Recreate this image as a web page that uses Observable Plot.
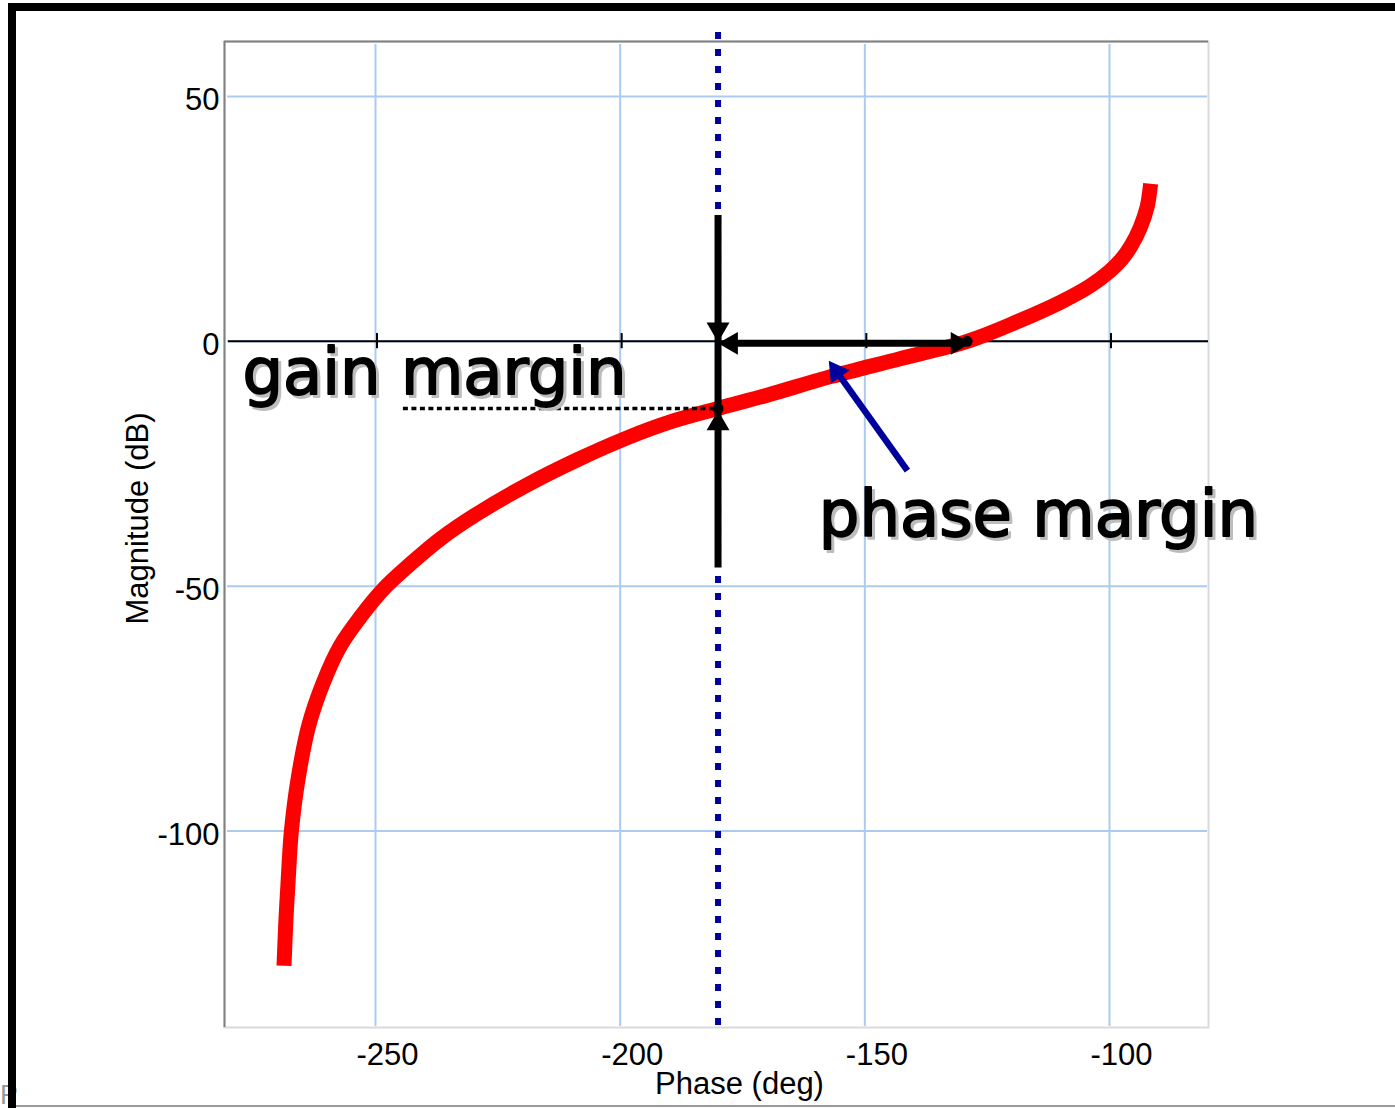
<!DOCTYPE html>
<html>
<head>
<meta charset="utf-8">
<script src="https://cdn.jsdelivr.net/npm/d3@7"></script>
<script src="https://cdn.jsdelivr.net/npm/@observablehq/plot@0.6"></script>
<style>
  html, body { margin: 0; padding: 0; background: #fff; overflow: hidden; }
  #wrap { position: relative; width: 1395px; height: 1108px; overflow: hidden; }
  #chart { position: absolute; left: 0; top: 0; }
  #corner { position: absolute; left: 0; top: 1080px; font: 27px "Liberation Sans", Arial, sans-serif; color: #999; }
  #border { position: absolute; left: 8px; top: 3px; width: 1500px; height: 1300px;
            border-top: 8px solid #000; border-left: 8px solid #000; pointer-events: none; }
  #bottomline { position: absolute; left: 16px; top: 1105px; width: 1400px; height: 0; border-top: 2px solid #9a9a9a; }
</style>
</head>
<body>
<div id="wrap">
  <div id="chart"></div>
  <div id="corner">P</div>
  <div id="border"></div>
  <div id="bottomline"></div>
</div>
<script>
// ---- Axis ticks ----
const xTicks = [-250, -200, -150, -100];
const xTickLabels = ["-250", "-200", "-150", "-100"];
const yTicks = [50, 0, -50, -100];
const yTickLabels = ["50", "0", "-50", "-100"];
const xLabel = "Phase (deg)";
const yLabel = "Magnitude (dB)";

// ---- Nichols curve (phase in deg, magnitude in dB) ----
const phaseDeg = [-268.7, -268.3, -267.9, -267.2, -265.8, -263.6, -260.6, -257.2, -253.1, -248.3,
                  -242.8, -236.7, -229.2, -219.0, -208.6, -198.6, -189.6, -180.0, -170.0, -157.0,
                  -143.0, -129.1, -118.9, -110.0, -104.0, -100.0, -97.5, -95.6, -93.7, -92.3, -91.6];
const magnitudeDb = [-127.5, -118.0, -111.0, -100.1, -89.2, -78.3, -69.5, -62.2, -56.3, -50.5,
                     -45.4, -40.3, -35.2, -29.3, -24.1, -19.7, -16.4, -13.7, -11.0, -7.2,
                     -3.6, 0.0, 4.0, 8.0, 11.3, 14.3, 16.8, 19.5, 23.3, 27.5, 32.2];

// ---- Annotations ----
const crossoverPhase = -180;            // phase of the -180 deg line
const gainCrossMag = -13.7;             // magnitude where curve meets -180 deg
const phaseCrossPhase = -129.1;         // phase where curve meets 0 dB
const phaseArrowEnd = -128.4;
const phaseArrowMag = -0.4;
const vArrowTop = 25.7, vArrowBottom = -46.3;
const gainDotStart = -244.3;
const blueLineTop = 63.1, blueLineBottom = -140.7;
const pointerFrom = [-141.3, -26.4];    // [phase, mag] tail of the blue pointer
const pointerTo = [-157.36, -3.94];     // [phase, mag] tip of the blue pointer
const annotationLabels = ["gain margin", "phase margin"];
const annotationPhase = [-277.2, -159.4];
const annotationMag = [-10.69, -39.7];

const xDomain = [-280.86, -79.77];
const yDomain = [-140.12, 61.24];

const curve = phaseDeg.map((p, i) => ({phase: p, mag: magnitudeDb[i]}));
const notes = annotationLabels.map((t, i) => ({label: t, phase: annotationPhase[i], mag: annotationMag[i]}));

const gridColor = "#abcbf1";
const navy = "#00009c";
const tickFont = "'Liberation Sans', Arial, Helvetica, sans-serif";
const noteFont = "'Comic Sans MS', 'DejaVu Sans', sans-serif";

const tip = 13.2;
const headR = 8.5;

const chart = Plot.plot({
  width: 1395,
  height: 1108,
  marginLeft: 224,
  marginRight: 187,
  marginTop: 41,
  marginBottom: 81,
  x: {domain: xDomain, axis: null},
  y: {domain: yDomain, axis: null},
  style: {fontFamily: tickFont, fontSize: "31px", background: "transparent", overflow: "visible", color: "black"},
  marks: [
    // grid
    Plot.ruleX(xTicks, {stroke: gridColor, strokeWidth: 2, insetTop: 3, insetBottom: 1}),
    Plot.ruleY(yTicks, {stroke: gridColor, strokeWidth: 2, insetLeft: 3, insetRight: 1}),
    // frame: light right/bottom, grey top/left
    Plot.frame({stroke: "#dadada", strokeWidth: 2}),
    Plot.ruleY([yDomain[1]], {stroke: "#808080", strokeWidth: 2}),
    Plot.ruleX([xDomain[0]], {stroke: "#808080", strokeWidth: 2}),
    // zero line with small ticks
    Plot.ruleY([0], {stroke: "black", strokeWidth: 2, insetLeft: 4}),
    Plot.ruleX(xTicks, {y1: 1.6, y2: -1.5, stroke: "black", strokeWidth: 2, dx: 1.5}),
    // tick labels
    Plot.text(xTicks, {x: d => d, text: (d, i) => xTickLabels[i], frameAnchor: "bottom", textAnchor: "middle", lineAnchor: "top", dy: 15, dx: 12, fontSize: 31}),
    Plot.text(yTicks, {y: d => d, text: (d, i) => yTickLabels[i], frameAnchor: "left", textAnchor: "end", lineAnchor: "middle", dx: -5, dy: 4, fontSize: 31}),
    // axis labels
    Plot.text([xLabel], {frameAnchor: "bottom", textAnchor: "middle", lineAnchor: "middle", dx: 23, dy: 57, fontSize: 31}),
    Plot.text([yLabel], {frameAnchor: "left", textAnchor: "middle", lineAnchor: "middle", rotate: -90, dx: -86, dy: -16, fontSize: 31}),
    // dotted -180 line
    Plot.ruleX([crossoverPhase], {y1: blueLineTop, y2: blueLineBottom, stroke: navy, strokeWidth: 6, strokeDasharray: "7,10"}),
    // Nichols curve
    Plot.line(curve, {x: "phase", y: "mag", stroke: "red", strokeWidth: 15, strokeLinecap: "butt", strokeLinejoin: "round", curve: "catmull-rom"}),
    // gain margin dotted reference
    Plot.ruleY([gainCrossMag], {x1: gainDotStart, x2: crossoverPhase, stroke: "black", strokeWidth: 3.5, strokeDasharray: "5,3.5"}),
    // gain margin arrow (vertical)
    Plot.ruleX([crossoverPhase], {y1: vArrowTop, y2: vArrowBottom, stroke: "black", strokeWidth: 7}),
    Plot.dot([{x: crossoverPhase, y: -0.2}], {x: "x", y: "y", symbol: "triangle", r: headR, fill: "black", rotate: 180, dy: -tip}),
    Plot.dot([{x: crossoverPhase, y: -14.1}], {x: "x", y: "y", symbol: "triangle", r: headR, fill: "black", rotate: 0, dy: tip}),
    // phase margin arrow (horizontal)
    Plot.ruleY([phaseArrowMag], {x1: crossoverPhase, x2: phaseArrowEnd, stroke: "black", strokeWidth: 7, insetLeft: 10, insetRight: 10}),
    Plot.dot([{x: crossoverPhase, y: phaseArrowMag}], {x: "x", y: "y", symbol: "triangle", r: headR, fill: "black", rotate: -90, dx: tip}),
    Plot.dot([{x: phaseArrowEnd, y: phaseArrowMag}], {x: "x", y: "y", symbol: "triangle", r: headR, fill: "black", rotate: 90, dx: -tip}),
    // crossing dots
    Plot.dot([{x: crossoverPhase, y: gainCrossMag}, {x: phaseCrossPhase, y: 0}], {x: "x", y: "y", r: 5.5, fill: "black"}),
    // blue pointer
    Plot.arrow([{x1: pointerFrom[0], y1: pointerFrom[1], x2: pointerTo[0], y2: pointerTo[1]}],
      {x1: "x1", y1: "y1", x2: "x2", y2: "y2", stroke: navy, strokeWidth: 6.5, headLength: 0, insetEnd: 14, strokeLinecap: "butt"}),
    Plot.dot([{x: pointerTo[0], y: pointerTo[1]}], {x: "x", y: "y", symbol: "triangle", r: headR, fill: navy, rotate: -35.3, dx: 7.6, dy: 10.8}),
    // annotation text with shadow
    Plot.text(notes, {x: "phase", y: "mag", text: "label", textAnchor: "start", lineAnchor: "bottom", fontFamily: noteFont, fontSize: 64, fill: "#bdbdbd", stroke: "#bdbdbd", strokeWidth: 1.8, dx: 3, dy: 3}),
    Plot.text(notes, {x: "phase", y: "mag", text: "label", textAnchor: "start", lineAnchor: "bottom", fontFamily: noteFont, fontSize: 64, fill: "black", stroke: "black", strokeWidth: 1.8})
  ]
});

document.getElementById("chart").appendChild(chart);
</script>
</body>
</html>
